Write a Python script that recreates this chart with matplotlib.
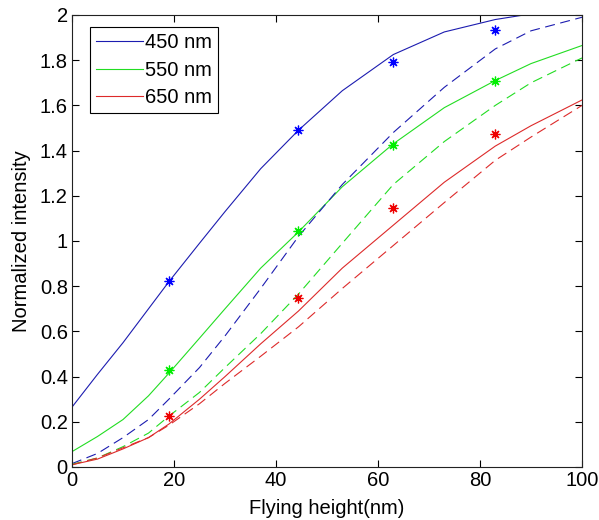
import matplotlib.pyplot as plt
import numpy as np

plt.rcParams['font.family'] = ['Liberation Sans', 'DejaVu Sans']

# flying height (nm) where curves were read
xc = [0, 5, 10, 15, 19, 25, 30, 37, 44.4, 53, 63, 73, 83, 90, 100]

blueSolid  = [0.265, 0.41, 0.55, 0.70, 0.82, 0.99, 1.13, 1.32, 1.49, 1.665, 1.825, 1.925, 1.98, 2.005, 2.03]
blueDash   = [0.015, 0.06, 0.13, 0.21, 0.30, 0.44, 0.58, 0.79, 1.02, 1.25, 1.48, 1.68, 1.85, 1.93, 1.99]
greenSolid = [0.068, 0.135, 0.21, 0.315, 0.415, 0.57, 0.70, 0.88, 1.04, 1.24, 1.43, 1.59, 1.71, 1.785, 1.865]
greenDash  = [0.012, 0.04, 0.09, 0.15, 0.225, 0.33, 0.44, 0.59, 0.765, 0.99, 1.25, 1.44, 1.60, 1.70, 1.81]
redSolid   = [0.01, 0.035, 0.08, 0.13, 0.19, 0.30, 0.40, 0.545, 0.69, 0.88, 1.07, 1.26, 1.42, 1.51, 1.624]
redDash    = [0.01, 0.04, 0.085, 0.13, 0.185, 0.28, 0.37, 0.49, 0.62, 0.79, 0.98, 1.17, 1.357, 1.46, 1.60]

# measured points
xm = [19, 44.4, 63, 83]
blueMeas  = [0.824, 1.49, 1.79, 1.933]
greenMeas = [0.431, 1.043, 1.424, 1.708]
redMeas   = [0.224, 0.748, 1.145, 1.472]

labels = ['450 nm', '550 nm', '650 nm']
cBlue = '#1c1cb0'
cGreen = '#22dd22'
cRed = '#dd2a2a'

fig = plt.figure(figsize=(5.99, 5.2), dpi=100)
ax = fig.add_axes([72/599., 1-467/520., 510/599., 452/520.])

dash = (0, (9, 5))
ax.plot(xc, blueSolid, '-', color=cBlue, linewidth=0.8, label=labels[0])
ax.plot(xc, greenSolid, '-', color=cGreen, linewidth=0.8, label=labels[1])
ax.plot(xc, redSolid, '-', color=cRed, linewidth=0.8, label=labels[2])
ax.plot(xc, blueDash, linestyle=dash, color=cBlue, linewidth=0.8)
ax.plot(xc, greenDash, linestyle=dash, color=cGreen, linewidth=0.8)
ax.plot(xc, redDash, linestyle=dash, color=cRed, linewidth=0.8)

star = (8, 2, 0)
ax.plot(xm, blueMeas, linestyle='none', marker=star, markersize=7, mew=0.9, color='#0000ff')
ax.plot(xm, greenMeas, linestyle='none', marker=star, markersize=7, mew=0.9, color='#00ee00')
ax.plot(xm, redMeas, linestyle='none', marker=star, markersize=7, mew=0.9, color='#ee0000')

ax.set_xlim([0, 100])
ax.set_ylim([0, 2])
ax.set_xticks(range(0, 101, 20))
yt = np.arange(0, 2.01, 0.2)
ax.set_yticks(yt)
ax.set_yticklabels(['%g' % round(v, 1) for v in yt])
ax.tick_params(direction='in', top=True, right=True, length=5, width=0.8,
               labelsize=14.5, pad=3)
for s in ax.spines.values():
    s.set_linewidth(0.8)
    s.set_color('#222222')

ax.set_xlabel('Flying height(nm)', fontsize=14.5, labelpad=6)
ax.set_ylabel('Normalized intensity', fontsize=14.5, labelpad=6)

leg = ax.legend(loc='upper left', bbox_to_anchor=(18/510., 440/452.), borderaxespad=0,
                fontsize=14.5, handlelength=2.35, handletextpad=0.1,
                labelspacing=0.43, borderpad=0.3, fancybox=False, framealpha=1)
leg.get_frame().set_edgecolor('black')
leg.get_frame().set_linewidth(0.8)

plt.savefig('out.png', dpi=100)
